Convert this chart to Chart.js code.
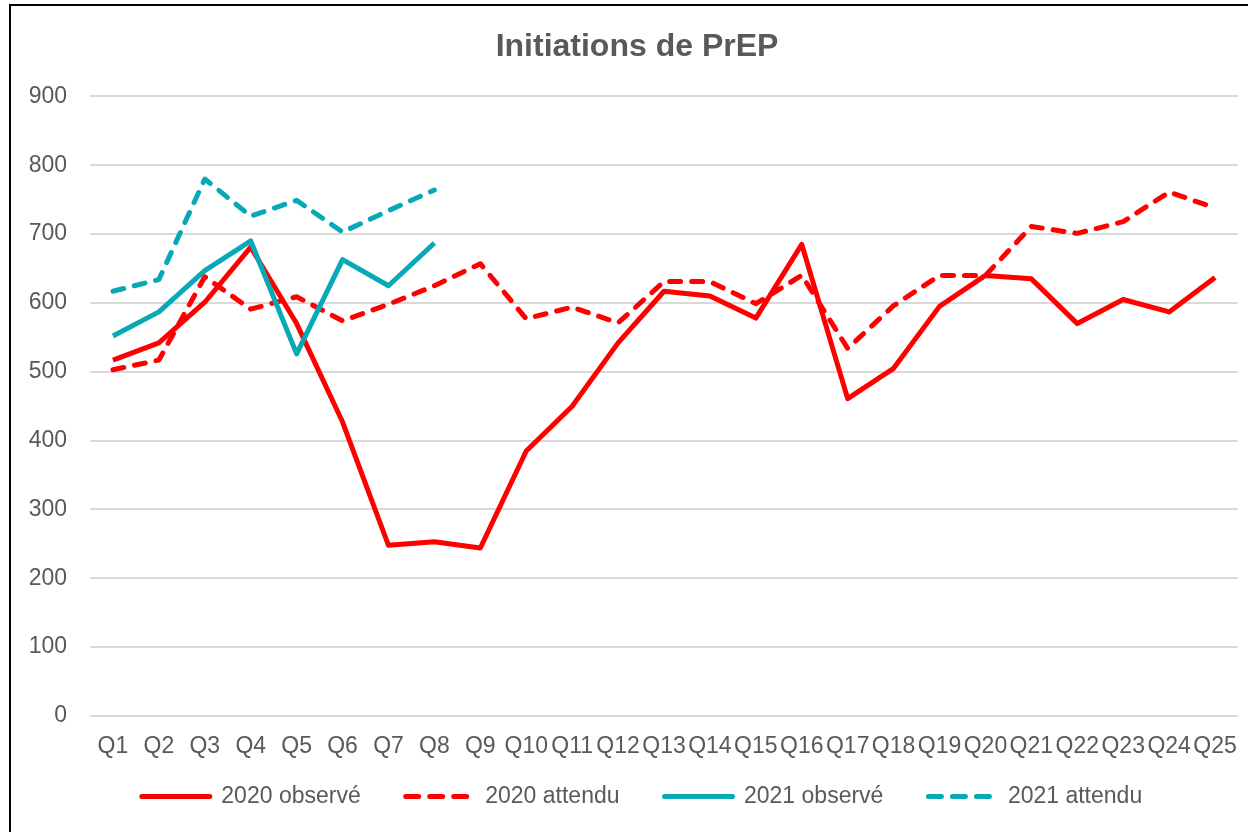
<!DOCTYPE html>
<html>
<head>
<meta charset="utf-8">
<script src="https://cdn.jsdelivr.net/npm/chart.js@4/dist/chart.umd.min.js"></script>
<style>
	body { margin: 0; background: #fff; }
	#wrap { position: relative; width: 1248px; height: 832px; overflow: hidden; }
	#frame { position: absolute; left: 9px; top: 4px; width: 1300px; height: 900px;
		border-left: 2px solid #000; border-top: 2px solid #000; pointer-events: none; }
</style>
</head>
<body>
<div id="wrap">
	<canvas id="myChart" width="1248" height="832"></canvas>
	<div id="frame"></div>
</div>
<script>
// data
var quarters = ['Q1','Q2','Q3','Q4','Q5','Q6','Q7','Q8','Q9','Q10','Q11','Q12','Q13',
	'Q14','Q15','Q16','Q17','Q18','Q19','Q20','Q21','Q22','Q23','Q24','Q25'];
var observed2020 = [517, 542, 601, 681, 570, 427, 248, 253, 244, 385, 450, 542, 617,
	610, 578, 685, 461, 505, 595, 640, 635, 570, 605, 587, 637];
var expected2020 = [503, 517, 638, 591, 609, 574, 598, 625, 657, 577, 594, 571, 631,
	631, 599, 640, 534, 596, 640, 640, 711, 701, 718, 761, 738];
var observed2021 = [552, 587, 647, 690, 526, 663, 625, 687];
var expected2021 = [617, 634, 780, 726, 749, 703, 734, 764];
var yTicks = [0, 100, 200, 300, 400, 500, 600, 700, 800, 900];

var RED = '#FF0000';
var TEAL = '#06A9B5';
var GREY = '#595959';
var FONT = "'Liberation Sans', Arial, sans-serif";

// legend reserves less room than its padding asks for
var legendSize = {
	id: 'legendSize',
	beforeLayout: function (chart) {
		var lg = chart.legend;
		if (lg && !lg._patched) {
			var fit = lg.fit;
			lg.fit = function () {
				fit.call(this);
				this.height = 66;
			};
			lg._patched = true;
		}
	},
	// nudge title and legend to where the original has them
	afterLayout: function (chart) {
		var t = chart.titleBlock;
		if (t) {
			t.left += 13;
			t.right += 13;
		}
		var lg = chart.legend;
		if (lg) {
			var h = lg.bottom - lg.top;
			lg.top = 740;
			lg.bottom = lg.top + h;
			lg.left += 18;
			lg.right += 18;
		}
	}
};

function line(label, data, color, dashed, order) {
	return {
		label: label,
		data: data,
		borderColor: color,
		backgroundColor: color,
		borderWidth: 5,
		borderDash: dashed ? [11, 11] : [],
		borderCapStyle: dashed ? 'round' : 'butt',
		borderJoinStyle: 'round',
		pointRadius: 0,
		pointHoverRadius: 0,
		tension: 0,
		fill: false,
		order: order
	};
}

var ctx = document.getElementById('myChart');
var myChart = new Chart(ctx, {
	type: 'line',
	data: {
		labels: quarters,
		datasets: [
			line('2020 observé', observed2020, RED, false, 4),
			line('2020 attendu', expected2020, RED, true, 3),
			line('2021 observé', observed2021, TEAL, false, 2),
			line('2021 attendu', expected2021, TEAL, true, 1)
		]
	},
	options: {
		responsive: false,
		animation: false,
		layout: { padding: { left: 10, right: 10, top: 0, bottom: 0 } },
		plugins: {
			title: {
				display: true,
				text: 'Initiations de PrEP',
				color: GREY,
				font: { family: FONT, size: 32, weight: 'bold' },
				padding: { top: 28, bottom: 30 }
			},
			legend: {
				position: 'bottom',
				labels: {
					usePointStyle: true,
					pointStyle: 'line',
					pointStyleWidth: 68,
					padding: 45,
					color: GREY,
					font: { family: FONT, size: 23 },
					sort: function (a, b) { return a.datasetIndex - b.datasetIndex; },
					generateLabels: function (chart) {
						var items = Chart.defaults.plugins.legend.labels.generateLabels(chart);
						items.forEach(function (it) {
							var ds = chart.data.datasets[it.datasetIndex];
							it.lineDash = ds.borderDash.length ? [13, 11] : [];
							it.lineCap = 'round';
							it.lineWidth = 5;
							it.strokeStyle = ds.borderColor;
						});
						return items;
					}
				}
			},
			tooltip: { enabled: false }
		},
		scales: {
			x: {
				offset: true,
				grid: { display: false, drawTicks: false },
				border: { display: false },
				ticks: {
					color: GREY,
					font: { family: FONT, size: 23 },
					padding: 17,
					autoSkip: false,
					maxRotation: 0,
					minRotation: 0
				},
				afterFit: function (scale) {
					scale.height = 50;
					scale.paddingLeft = 0;
					scale.paddingRight = 0;
				}
			},
			y: {
				min: 0,
				max: 900,
				afterBuildTicks: function (scale) {
					scale.ticks = yTicks.map(function (v) { return { value: v }; });
				},
				grid: { color: '#D9D9D9', lineWidth: 2, drawTicks: false },
				border: { display: false },
				ticks: {
					color: GREY,
					font: { family: FONT, size: 23 },
					padding: 23
				},
				afterFit: function (scale) { scale.width = 80; }
			}
		}
	},
	plugins: [legendSize]
});
</script>
</body>
</html>
